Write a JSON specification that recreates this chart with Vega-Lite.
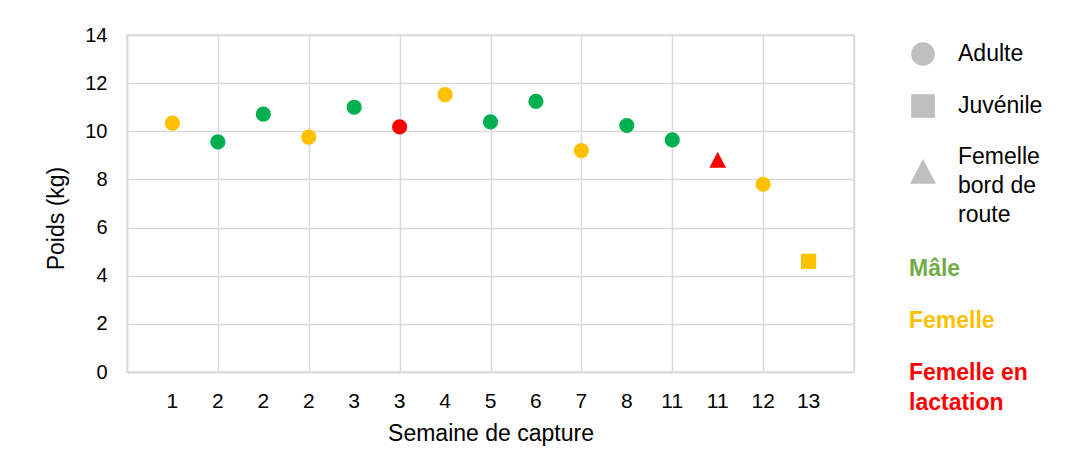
{
  "$schema": "https://vega.github.io/schema/vega-lite/v6.json",
  "width": 727,
  "height": 337,
  "autosize": "none",
  "padding": {"left": 127, "top": 35, "right": 224, "bottom": 80},
  "background": "white",
  "config": {
    "font": "Liberation Sans",
    "view": {"stroke": "#d9d9d9", "strokeWidth": 1.5},
    "axis": {"labelColor": "#000000", "titleColor": "#000000", "titleFontWeight": "normal"},
    "style": {"guide-label": {"lineHeight": 29}}
  },
  "data": {
    "values": [
      {"rang": 1, "semaine": "1", "poids": 10.34, "sexe": "Femelle", "stade": "Adulte"},
      {"rang": 2, "semaine": "2", "poids": 9.56, "sexe": "Mâle", "stade": "Adulte"},
      {"rang": 3, "semaine": "2", "poids": 10.71, "sexe": "Mâle", "stade": "Adulte"},
      {"rang": 4, "semaine": "2", "poids": 9.76, "sexe": "Femelle", "stade": "Adulte"},
      {"rang": 5, "semaine": "3", "poids": 11.0, "sexe": "Mâle", "stade": "Adulte"},
      {"rang": 6, "semaine": "3", "poids": 10.18, "sexe": "Femelle en lactation", "stade": "Adulte"},
      {"rang": 7, "semaine": "4", "poids": 11.52, "sexe": "Femelle", "stade": "Adulte"},
      {"rang": 8, "semaine": "5", "poids": 10.39, "sexe": "Mâle", "stade": "Adulte"},
      {"rang": 9, "semaine": "6", "poids": 11.24, "sexe": "Mâle", "stade": "Adulte"},
      {"rang": 10, "semaine": "7", "poids": 9.2, "sexe": "Femelle", "stade": "Adulte"},
      {"rang": 11, "semaine": "8", "poids": 10.24, "sexe": "Mâle", "stade": "Adulte"},
      {"rang": 12, "semaine": "11", "poids": 9.64, "sexe": "Mâle", "stade": "Adulte"},
      {"rang": 13, "semaine": "11", "poids": 8.8, "sexe": "Femelle en lactation", "stade": "Femelle bord de route"},
      {"rang": 14, "semaine": "12", "poids": 7.8, "sexe": "Femelle", "stade": "Adulte"},
      {"rang": 15, "semaine": "13", "poids": 4.6, "sexe": "Femelle", "stade": "Juvénile"}
    ]
  },
  "layer": [
    {
      "mark": {"type": "text", "fontSize": 21, "dy": 30, "color": "#000000"},
      "encoding": {
        "x": {"field": "rang", "type": "quantitative"},
        "y": {"datum": 0, "type": "quantitative"},
        "text": {"field": "semaine"}
      }
    },
    {
      "mark": {"type": "point", "filled": true, "opacity": 1, "size": 230},
      "encoding": {
        "x": {
          "field": "rang",
          "type": "quantitative",
          "scale": {"domain": [0, 16], "nice": false, "zero": false},
          "axis": {
            "values": [0, 2, 4, 6, 8, 10, 12, 14, 16],
            "labels": false,
            "ticks": false,
            "grid": true,
            "gridColor": "#d9d9d9",
            "gridWidth": 1.5,
            "domainColor": "#d9d9d9",
            "domainWidth": 1.5,
            "title": "Semaine de capture",
            "titleFontSize": 23,
            "titlePadding": 50
          }
        },
        "y": {
          "field": "poids",
          "type": "quantitative",
          "scale": {"domain": [0, 14], "nice": false},
          "axis": {
            "values": [0, 2, 4, 6, 8, 10, 12, 14],
            "ticks": false,
            "grid": true,
            "gridColor": "#d9d9d9",
            "gridWidth": 1.5,
            "domainColor": "#d9d9d9",
            "domainWidth": 1.5,
            "labelFontSize": 20,
            "labelPadding": 20,
            "title": "Poids (kg)",
            "titleFontSize": 23,
            "titlePadding": 16,
            "titleY": 183
          }
        },
        "shape": {
          "field": "stade",
          "type": "nominal",
          "scale": {
            "domain": ["Adulte", "Juvénile", "Femelle bord de route"],
            "range": ["circle", "square", "M0,-1.1L1.1,1L-1.1,1Z"]
          },
          "legend": {
            "title": null,
            "orient": "none",
            "legendX": 784,
            "legendY": 7,
            "symbolSize": 560,
            "symbolFillColor": "#bfbfbf",
            "symbolStrokeWidth": 0,
            "labelFontSize": 23,
            "labelColor": "#000000",
            "labelOffset": 23,
            "rowPadding": 28,
            "labelLimit": 300,
            "labelBaseline": {"expr": "datum.value == 'Femelle bord de route' ? 'line-bottom' : 'middle'"},
            "labelExpr": "datum.label == 'Femelle bord de route' ? ['Femelle', 'bord de', 'route'] : datum.label"
          }
        },
        "color": {
          "field": "sexe",
          "type": "nominal",
          "scale": {"domain": ["Mâle", "Femelle", "Femelle en lactation"], "range": ["#00B050", "#FFC000", "#FF0000"]},
          "legend": {
            "title": null,
            "orient": "none",
            "legendX": 759,
            "legendY": 222,
            "symbolOpacity": 0,
            "symbolSize": 0,
            "labelFontSize": 23,
            "labelFontWeight": "bold",
            "labelOffset": 0,
            "rowPadding": 28,
            "labelLimit": 300,
            "labelExpr": "datum.label == 'Femelle en lactation' ? ['Femelle en', 'lactation'] : datum.label",
            "encode": {
              "labels": {
                "update": {
                  "lineHeight": {"value": 30},
                  "fill": {"signal": "datum.label == 'Mâle' ? '#70AD47' : datum.label == 'Femelle' ? '#FFC000' : '#FF0000'"}
                }
              }
            }
          }
        }
      }
    }
  ]
}
